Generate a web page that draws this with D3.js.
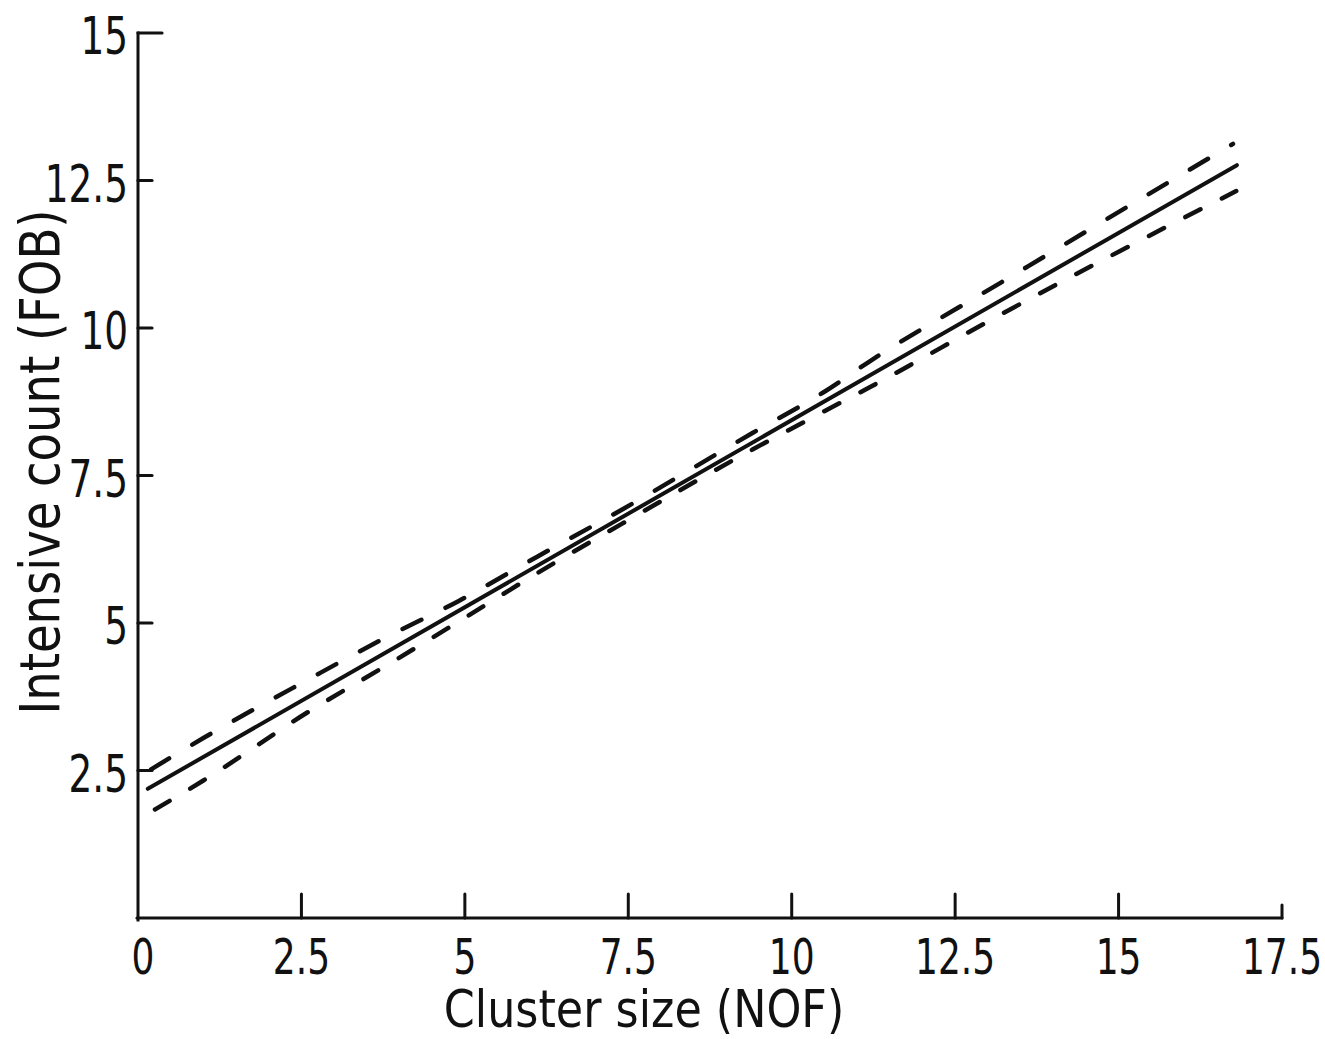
<!DOCTYPE html>
<html>
<head>
<meta charset="utf-8">
<script src="https://cdn.jsdelivr.net/npm/d3@7"></script>
<style>
  html, body { margin: 0; padding: 0; background: #fff; }
  svg { display: block; }
  text { font-family: "Liberation Sans Narrow", "DejaVu Sans Condensed", "Liberation Sans", sans-serif; fill: #111; }
</style>
</head>
<body>
<svg id="chart" width="1325" height="1039"></svg>
<script>
// ---- Data ----
const xTicks = [0, 2.5, 5, 7.5, 10, 12.5, 15, 17.5];
const xTickLabels = ["0", "2.5", "5", "7.5", "10", "12.5", "15", "17.5"];
const yTicks = [2.5, 5, 7.5, 10, 12.5, 15];
const yTickLabels = ["2.5", "5", "7.5", "10", "12.5", "15"];

// fitted regression line (solid)
const fitX = [0.15, 16.81];
const fitY = [2.19, 12.76];

// confidence band (dashed)
const upperX = [0.2, 1, 2.6, 3.8, 4.9, 6.1, 7.4, 9.4, 10.5, 11.2, 13.2, 15.9, 16.75];
const upperY = [2.52, 3.05, 4.04, 4.76, 5.37, 6.12, 6.92, 8.22, 8.92, 9.44, 10.77, 12.56, 13.12];
const lowerX = [0.26, 1, 2.6, 3.8, 4.9, 6.1, 7.4, 9.4, 10.5, 11.2, 13.2, 15.9, 16.8];
const lowerY = [1.84, 2.33, 3.49, 4.28, 5.02, 5.84, 6.68, 7.94, 8.59, 9.00, 10.23, 11.81, 12.32];

const xTitle = "Cluster size (NOF)";
const yTitle = "Intensive count (FOB)";

// ---- Layout ----
const svg = d3.select("#chart");
const x = d3.scaleLinear().domain([0, 17.5]).range([138, 1282]);
const y = d3.scaleLinear().domain([0, 15]).range([918, 33]);
const ink = "#111";
const labelScale = 0.8;   // horizontal compression for a narrow lettering look
const titleScale = 0.95;

// Axes lines
const g = svg.append("g");
g.append("line")
  .attr("x1", x(0)).attr("x2", x(0))
  .attr("y1", y(15)).attr("y2", y(0) + 2)
  .attr("stroke", ink).attr("stroke-width", 3).attr("stroke-linecap", "square");
g.append("line")
  .attr("x1", x(0) - 1).attr("x2", x(17.5))
  .attr("y1", y(0)).attr("y2", y(0))
  .attr("stroke", ink).attr("stroke-width", 3.2).attr("stroke-linecap", "round");

// Y ticks (drawn inward)
g.selectAll(".ytick").data(yTicks).join("line")
  .attr("class", "ytick")
  .attr("x1", x(0)).attr("x2", d => x(0) + (d === 15 ? 24 : 14))
  .attr("y1", d => y(d)).attr("y2", d => y(d))
  .attr("stroke", ink).attr("stroke-width", 3.2).attr("stroke-linecap", "round");

// X ticks (drawn upward)
g.selectAll(".xtick").data(xTicks.slice(1)).join("line")
  .attr("class", "xtick")
  .attr("x1", d => x(d)).attr("x2", d => x(d))
  .attr("y1", y(0)).attr("y2", d => y(0) - (d === 17.5 ? 13 : 24))
  .attr("stroke", ink).attr("stroke-width", 3).attr("stroke-linecap", "round");

// Tick labels
g.selectAll(".ylab").data(yTicks).join("g")
  .attr("class", "ylab")
  .attr("transform", d => `translate(${x(0) - 10},${y(d) + 21}) scale(${labelScale},1)`)
  .append("text")
  .attr("text-anchor", "end")
  .attr("font-size", 52)
  .text((d, i) => yTickLabels[i]);

g.selectAll(".xlab").data(xTicks).join("g")
  .attr("class", "xlab")
  .attr("transform", d => `translate(${x(d) + (d === 0 ? 5 : 0)},${y(0) + 56}) scale(${labelScale},1)`)
  .append("text")
  .attr("text-anchor", "middle")
  .attr("font-size", 50)
  .text((d, i) => xTickLabels[i]);

// Axis titles
svg.append("g")
  .attr("transform", `translate(644,1027) scale(${titleScale},1)`)
  .append("text")
  .attr("text-anchor", "middle")
  .attr("font-size", 52)
  .text(xTitle);

svg.append("g")
  .attr("transform", `translate(59,462) rotate(-90) scale(0.94,1)`)
  .append("text")
  .attr("text-anchor", "middle")
  .attr("font-size", 55)
  .text(yTitle);

// Lines
const line = d3.line().x(d => x(d[0])).y(d => y(d[1])).curve(d3.curveMonotoneX);

svg.append("path")
  .datum(fitX.map((v, i) => [v, fitY[i]]))
  .attr("d", line)
  .attr("fill", "none").attr("stroke", ink)
  .attr("stroke-width", 4).attr("stroke-linecap", "round");

svg.append("path")
  .datum(upperX.map((v, i) => [v, upperY[i]]))
  .attr("d", line)
  .attr("fill", "none").attr("stroke", ink)
  .attr("stroke-width", 4.5).attr("stroke-linecap", "round")
  .attr("stroke-dasharray", "21,27");

svg.append("path")
  .datum(lowerX.map((v, i) => [v, lowerY[i]]))
  .attr("d", line)
  .attr("fill", "none").attr("stroke", ink)
  .attr("stroke-width", 4.5).attr("stroke-linecap", "round")
  .attr("stroke-dasharray", "17,24");
</script>
</body>
</html>
